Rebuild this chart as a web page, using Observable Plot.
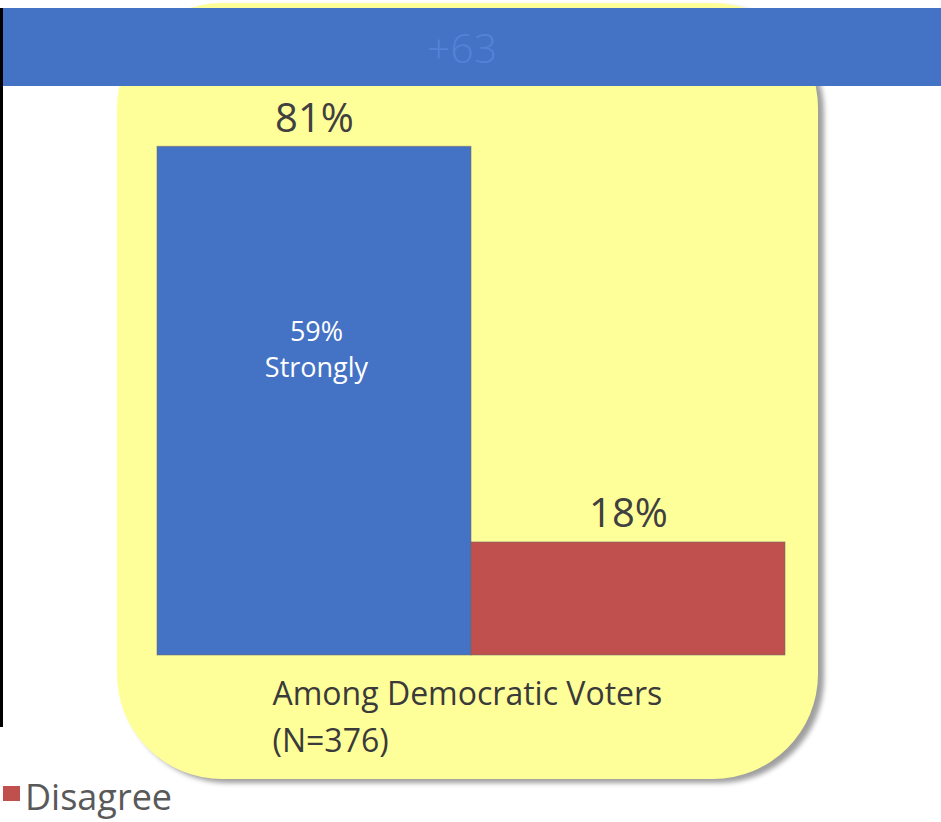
<!DOCTYPE html>
<html>
<head>
<meta charset="utf-8">
<script src="https://cdn.jsdelivr.net/npm/d3@7"></script>
<script src="https://cdn.jsdelivr.net/npm/@observablehq/plot@0.6"></script>
<style>
  html, body { margin: 0; padding: 0; background: #ffffff; }
  body { width: 941px; height: 822px; overflow: hidden; font-family: "Open Sans", sans-serif; }
  #stage { position: relative; width: 941px; height: 822px; }
  #panel { position: absolute; left: 117px; top: 3px; width: 701px; height: 776px;
           background: #FFFF99; border-radius: 105px;
           box-shadow: 6px 4px 5px rgba(0,0,0,0.38); }
  #band { position: absolute; left: 0; top: 8px; width: 941px; height: 78px; background: #4472C4; }
  #band .lead { position: absolute; left: 462px; top: 50%; transform: translate(-50%, -50%);
                color: #5383D6; font-size: 41px; font-weight: 300; line-height: 1; }
  #rule { position: absolute; left: 0; top: 8px; width: 3px; height: 719px; background: #000; }
  #chart { position: absolute; left: 0; top: 0; }
  #chart svg { background: transparent; overflow: visible; }
  #legend { position: absolute; left: 3px; top: 779px; font-size: 36px; color: #595959; line-height: 1; white-space: nowrap; }
  #legend .sw { display: inline-block; width: 17px; height: 15px; background: #C0504D; margin-right: 5px; vertical-align: 9px; }
</style>
</head>
<body>
<div id="stage">
  <div id="panel"></div>
  <div id="band"><span class="lead" id="lead"></span></div>
  <div id="rule"></div>
  <div id="chart"></div>
  <div id="legend"></div>
</div>
<script>
// ---- data ----
const categories = ["Agree", "Disagree"];
const values = [81, 18];
const strongly = [59, null];
const colors = ["#4472C4", "#C0504D"];
const groupLabel = "Among Democratic Voters";
const sampleSize = 376;
const legendLabels = ["Disagree"];

const rows = categories.map((c, i) => ({category: c, value: values[i], strongly: strongly[i]}));

document.getElementById("lead").textContent = "+" + (values[0] - values[1]);

const chart = Plot.plot({
  width: 941,
  height: 780,
  marginLeft: 157,
  marginRight: 156,
  marginTop: 27,
  marginBottom: 125,
  style: {background: "transparent", fontFamily: "Open Sans, sans-serif", overflow: "visible"},
  x: {domain: categories, padding: 0, axis: null},
  y: {domain: [0, 100], axis: null},
  color: {domain: categories, range: colors},
  marks: [
    Plot.barY(rows, {x: "category", y: "value", fill: "category", stroke: "#6b6b6b", strokeOpacity: 0.55, strokeWidth: 1}),
    Plot.text(rows, {x: "category", y: "value", text: d => d.value + "%", lineAnchor: "bottom", dy: -15, fontSize: 40, fill: "#404040"}),
    Plot.text(rows.filter(d => d.strongly != null), {x: "category", y: d => d.value / 2, text: d => d.strongly + "%\nStrongly", lineAnchor: "middle", lineHeight: 1.36, dy: -54, dx: 2, fontSize: 27, fill: "#ffffff"}),
    Plot.text([groupLabel + "\n(N=" + sampleSize + ")"], {frameAnchor: "bottom-left", text: d => d, textAnchor: "start", lineAnchor: "top", lineHeight: 1.45, dx: 115, dy: 17, fontSize: 32, fill: "#3a3a3a"})
  ]
});
document.getElementById("chart").appendChild(chart);

const lg = document.getElementById("legend");
legendLabels.forEach(l => {
  const sw = document.createElement("span"); sw.className = "sw";
  lg.appendChild(sw);
  lg.appendChild(document.createTextNode(l));
});
</script>
</body>
</html>
